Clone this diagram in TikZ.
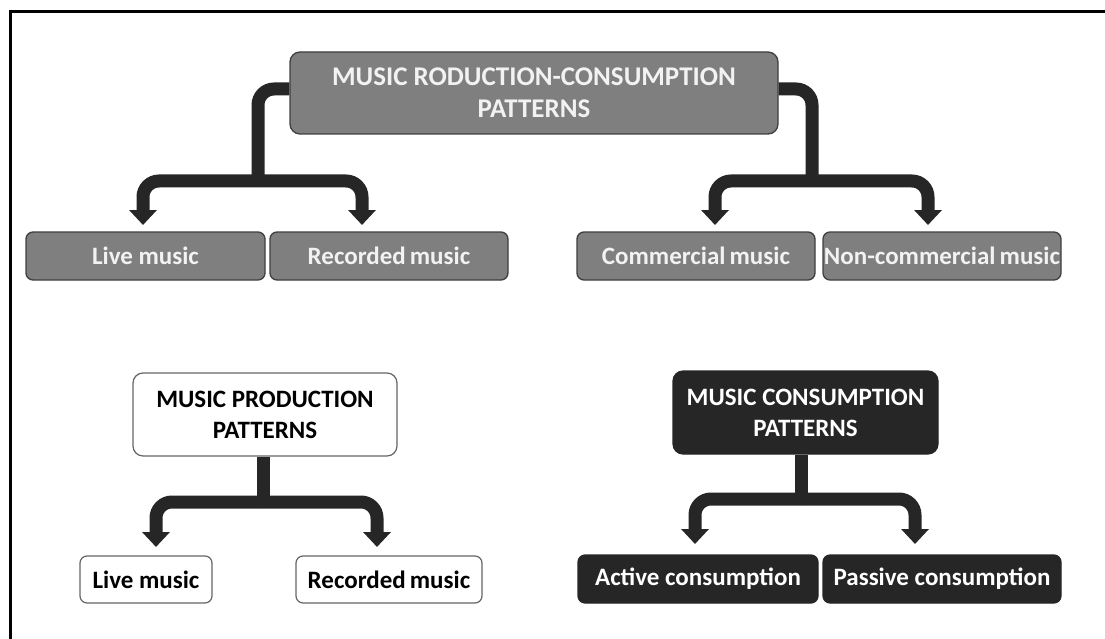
\documentclass[tikz,border=0pt]{standalone}
\usepackage{fontspec}
\setmainfont{Carlito}
\usetikzlibrary{arrows.meta}
\definecolor{boxgray}{HTML}{7F7F7F}
\definecolor{boxedge}{HTML}{3F3F3F}
\definecolor{darkfill}{HTML}{262626}
\definecolor{lighttext}{HTML}{F2F2F2}
\tikzset{
  x=1pt,y=-1pt,
  basebox/.style={rounded corners=7pt, inner sep=0pt, align=center, font=\bfseries\fontsize{25}{31}\selectfont},
  headfont/.style={font=\bfseries\fontsize{25}{31}\selectfont},
  bigheadfont/.style={font=\bfseries\fontsize{27}{32}\selectfont},
  graybox/.style={basebox, fill=boxgray, draw=boxedge, line width=1.3pt, text=lighttext},
  whitebox/.style={basebox, fill=white, draw=boxedge!80, line width=1.2pt, text=black},
  darkbox/.style={basebox, fill=darkfill, draw=darkfill, line width=1.2pt, text=white},
  conn/.style={draw=darkfill, line width=13pt, rounded corners=16pt},
  arr/.style={conn, -{Triangle[width=27pt,length=15pt]}},
}
\begin{document}
\begin{tikzpicture}
\useasboundingbox (0,0) rectangle (1105,639);
% frame
\draw[line width=3pt] (10.5,639) -- (10.5,12) -- (1105,12);

% ---------- top group ----------
\node[graybox, bigheadfont, minimum width=488pt, minimum height=82pt, rounded corners=10pt] (top) at (534,93) {MUSIC RODUCTION-CONSUMPTION\\PATTERNS};
\node[graybox, minimum width=239pt, minimum height=48pt] (live1) at (145.5,256) {Live music};
\node[graybox, minimum width=238pt, minimum height=48pt] (rec1) at (389,256) {Recorded\,music};
\node[graybox, minimum width=238pt, minimum height=48pt] (com) at (696,256) {Commercial\,music};
\node[graybox, minimum width=238pt, minimum height=48pt] (noncom) at (942,256) {Non-commercial\,music};

\coordinate (jl) at (258,181);
\coordinate (jr) at (812,181);
\coordinate (tl1) at (143,225);
\coordinate (tl2) at (362,225);
\coordinate (tr1) at (715,225);
\coordinate (tr2) at (928,225);
\draw[conn] ([yshift=4pt]top.west) -| (jl);
\draw[arr] (jl) -| (tl1);
\draw[arr] (jl) -| (tl2);
\draw[conn] ([yshift=4pt]top.east) -| (jr);
\draw[arr] (jr) -| (tr1);
\draw[arr] (jr) -| (tr2);

% ---------- bottom left ----------
\node[whitebox, headfont, minimum width=264pt, minimum height=83pt, rounded corners=10pt] (prod) at (265,414.5) {MUSIC PRODUCTION\\PATTERNS};
\node[whitebox, minimum width=132pt, minimum height=47pt] (live2) at (146,579.5) {Live music};
\node[whitebox, minimum width=186pt, minimum height=47pt] (rec2) at (389,579.5) {Recorded\,music};
\coordinate (jp) at (263,502);
\coordinate (tp1) at (156,547);
\coordinate (tp2) at (377,547);
\draw[conn, rounded corners=0pt] (prod.south -| jp) -- (jp);
\draw[arr] (jp) -| (tp1);
\draw[arr] (jp) -| (tp2);

% ---------- bottom right ----------
\node[darkbox, headfont, minimum width=265pt, minimum height=83pt, rounded corners=10pt] (cons) at (805.5,412.5) {MUSIC CONSUMPTION\\PATTERNS};
\node[darkbox, minimum width=240pt, minimum height=48pt] (act) at (698,579) {Active consumption};
\node[darkbox, minimum width=238pt, minimum height=48pt] (pas) at (942,579) {Passive consumption};
\coordinate (jc) at (801,499);
\coordinate (tc1) at (695,544);
\coordinate (tc2) at (915,544);
\draw[conn, rounded corners=0pt] (cons.south -| jc) -- (jc);
\draw[arr] (jc) -| (tc1);
\draw[arr] (jc) -| (tc2);
\end{tikzpicture}
\end{document}
